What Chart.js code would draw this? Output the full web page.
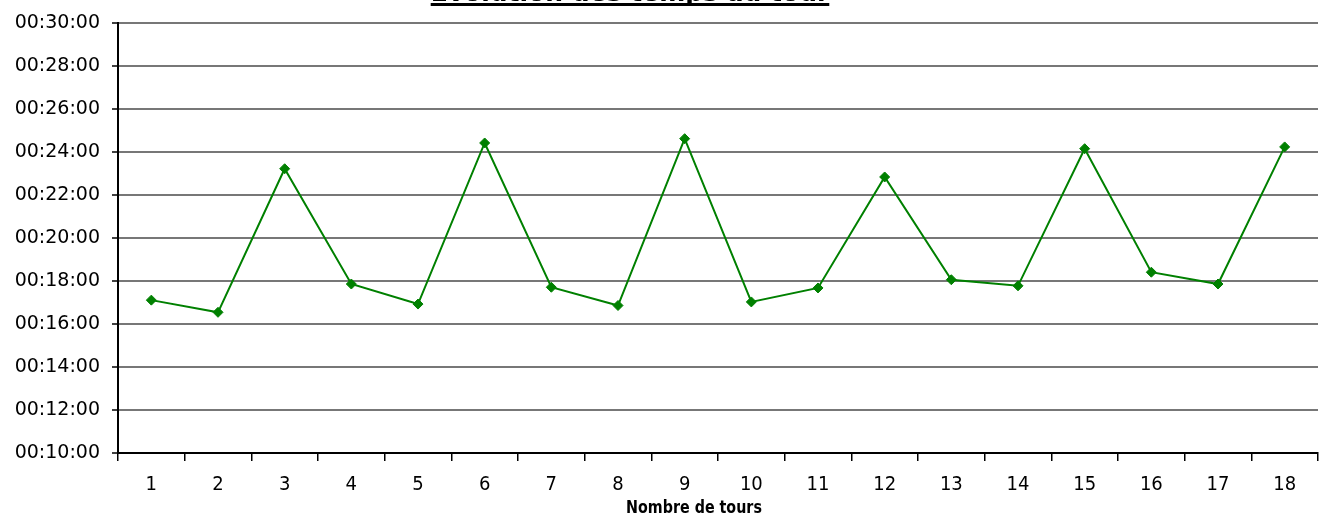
<!DOCTYPE html>
<html lang="fr">
<head>
<meta charset="utf-8">
<title>Evolution des temps au tour</title>
<script src="https://cdn.jsdelivr.net/npm/chart.js@4/dist/chart.umd.min.js"></script>
<style>
  html, body { margin: 0; padding: 0; background: #fff; overflow: hidden; }
  #wrap { position: relative; width: 1324px; height: 516px; }
  #titre {
    position: absolute; left: 0; width: 1260px; top: -22px;
    text-align: center; font: bold 25px 'DejaVu Sans', Verdana, sans-serif;
    text-decoration: underline; text-decoration-thickness: 3px;
    text-decoration-skip-ink: none;
  }
  #titreX {
    position: absolute; left: 594px; width: 200px; top: 497px;
    text-align: center; line-height: 20px;
    font: bold 17px 'DejaVu Sans', sans-serif;
    transform: scaleX(0.84);
  }
</style>
</head>
<body>
<div id="wrap">
  <canvas id="toursChart" width="1324" height="516"></canvas>
  <div id="titre">Evolution des temps au tour</div>
  <div id="titreX">Nombre de tours</div>
</div>
<script>
// Numéro de tour et temps du tour (en secondes)
const tours = ['1', '2', '3', '4', '5', '6', '7', '8', '9', '10', '11', '12', '13', '14', '15', '16', '17', '18'];
const tempsTour = [1027, 993, 1394, 1072, 1016, 1466, 1063, 1012, 1478, 1022, 1061, 1371, 1084, 1067, 1450, 1105, 1072, 1455];

// Axe des temps : de 00:10:00 à 00:30:00, pas de 2 minutes
const tempsMin = 600;
const tempsMax = 1800;
const tempsPas = 120;

function formatHMS(sec) {
    const h = Math.floor(sec / 3600);
    const m = Math.floor((sec % 3600) / 60);
    const s = Math.round(sec % 60);
    return [h, m, s].map(v => String(v).padStart(2, '0')).join(':');
}

const ctx = document.getElementById('toursChart').getContext('2d');
new Chart(ctx, {
    type: 'line',
    data: {
        labels: tours,
        datasets: [{
            label: 'Temps au tour',
            data: tempsTour,
            borderColor: '#008000',
            backgroundColor: '#008000',
            borderWidth: 2,
            pointStyle: 'rectRot',
            pointRadius: 5,
            pointBorderWidth: 1,
            tension: 0
        }]
    },
    options: {
        responsive: false,
        animation: false,
        layout: { padding: { top: 22, right: 0, left: 0, bottom: 0 } },
        plugins: {
            legend: { display: false },
            tooltip: { enabled: false }
        },
        scales: {
            x: {
                type: 'category',
                offset: true,
                grid: {
                    offset: true,
                    drawOnChartArea: false,
                    tickLength: 8,
                    color: '#000',
                    lineWidth: 1.5
                },
                border: { color: '#000', width: 2 },
                ticks: {
                    color: '#000',
                    padding: 12,
                    maxRotation: 0,
                    font: { family: "'DejaVu Sans Condensed', 'DejaVu Sans'", size: 20 }
                },
                afterFit: scale => { scale.height = 63; }
            },
            y: {
                min: tempsMin,
                max: tempsMax,
                grid: {
                    color: '#777',
                    lineWidth: 2,
                    tickLength: 6,
                    tickColor: '#000',
                    tickWidth: 1.5
                },
                border: { color: '#000', width: 2 },
                ticks: {
                    stepSize: tempsPas,
                    color: '#000',
                    padding: 12,
                    font: { family: "'DejaVu Sans'", size: 19 },
                    callback: v => formatHMS(v)
                },
                afterFit: scale => { scale.width = 118; }
            }
        }
    }
});
</script>
</body>
</html>
